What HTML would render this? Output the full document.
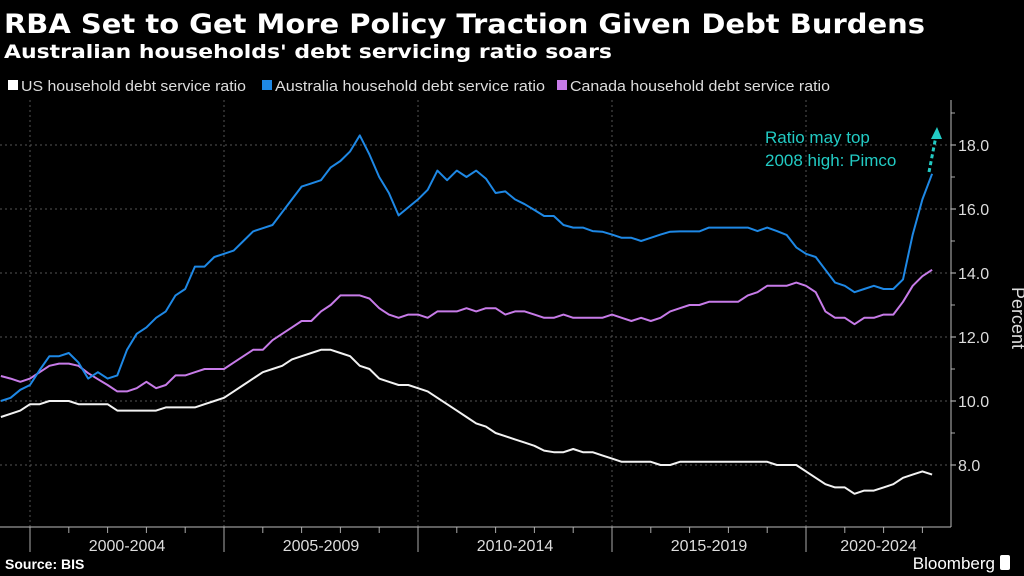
<!DOCTYPE html>
<html><head><meta charset="utf-8"><style>
html,body{margin:0;padding:0;background:#000;width:1024px;height:576px;overflow:hidden}
svg{display:block;font-family:"Liberation Sans",sans-serif}
</style></head><body>
<svg id="chart" width="1024" height="576" viewBox="0 0 1024 576">
<text x="4" y="33" fill="#fff" font-size="27" font-weight="bold" font-family="'DejaVu Sans', sans-serif" textLength="921" lengthAdjust="spacingAndGlyphs">RBA Set to Get More Policy Traction Given Debt Burdens</text>
<text x="4" y="58" fill="#fff" font-size="19" font-weight="bold" font-family="'DejaVu Sans', sans-serif" textLength="608" lengthAdjust="spacingAndGlyphs">Australian households' debt servicing ratio soars</text>
<g font-size="15" fill="#ddd">
<g><rect x="8" y="80" width="10" height="10" fill="#fff"/><text x="21" y="91" textLength="225" lengthAdjust="spacingAndGlyphs">US household debt service ratio</text></g>
<g><rect x="262" y="80" width="10" height="10" fill="#1e88e5"/><text x="275" y="91" textLength="270" lengthAdjust="spacingAndGlyphs">Australia household debt service ratio</text></g>
<g><rect x="557" y="80" width="10" height="10" fill="#c77be8"/><text x="570" y="91" textLength="260" lengthAdjust="spacingAndGlyphs">Canada household debt service ratio</text></g>
</g>
<g id="grid"></g>
<g id="axes"></g>
<g id="series"></g>
<g>
<text x="765" y="143" fill="#22cbc4" font-size="17">Ratio may top</text>
<text x="765" y="166" fill="#22cbc4" font-size="17">2008 high: Pimco</text>
<line x1="929" y1="172" x2="936" y2="136" stroke="#22cbc4" stroke-width="3" stroke-dasharray="4,3"/>
<polygon points="937,127 931,139 942,139" fill="#22cbc4"/>
</g>
<text x="1012" y="318" fill="#ddd" font-size="18" text-anchor="middle" transform="rotate(90 1012 318)">Percent</text>
<text x="5" y="569" fill="#fff" font-size="14" font-weight="bold">Source: BIS</text>
<text x="995" y="569" fill="#fff" font-size="17" text-anchor="end">Bloomberg</text>
<rect x="1000" y="555" width="10" height="15" rx="2" fill="#fff"/>
</svg>
<script>
const yTicks=[8,10,12,14,16,18];
const yTickLabels=["8.0","10.0","12.0","14.0","16.0","18.0"];
const periodLabels=["2000-2004","2005-2009","2010-2014","2015-2019","2020-2024"];
const periodStarts=[2000,2005,2010,2015,2020];
const startYear=1999.25;
const usValues=[9.5,9.6,9.7,9.9,9.9,10.0,10.0,10.0,9.9,9.9,9.9,9.9,9.7,9.7,9.7,9.7,9.7,9.8,9.8,9.8,9.8,9.9,10.0,10.1,10.3,10.5,10.7,10.9,11.0,11.1,11.3,11.4,11.5,11.6,11.6,11.5,11.4,11.1,11.0,10.7,10.6,10.5,10.5,10.4,10.3,10.1,9.9,9.7,9.5,9.3,9.2,9.0,8.9,8.8,
8.7,8.6,8.45,8.4,8.4,8.5,8.4,8.4,8.3,8.2,8.1,8.1,8.1,8.1,8.0,8.0,8.1,8.1,8.1,8.1,8.1,8.1,8.1,8.1,8.1,
8.1,8.0,8.0,8.0,7.8,7.6,7.4,7.3,7.3,7.1,7.2,7.2,7.3,7.4,7.6,7.7,7.8,7.7];
const auValues=[10.0,10.1,10.35,10.5,10.97,11.4,11.4,11.5,11.2,10.7,10.9,10.7,10.8,11.6,12.1,12.3,12.6,12.8,13.3,13.5,14.2,14.2,14.5,14.6,14.7,15.0,15.3,15.4,15.5,15.9,16.3,16.7,16.8,16.9,17.3,17.5,17.8,18.3,17.7,17.0,16.5,15.8,16.05,16.3,16.6,17.2,16.9,17.2,17.0,17.2,16.95,16.5,16.55,16.3,
16.15,15.97,15.78,15.78,15.5,15.42,15.42,15.31,15.29,15.2,15.1,15.1,15.0,15.1,15.2,15.29,15.3,15.3,15.3,15.42,15.42,15.42,15.42,15.42,15.31,15.42,15.31,15.19,14.8,14.6,14.5,14.1,13.7,13.6,13.4,13.5,13.6,13.5,13.5,13.8,15.2,16.3,17.1];
const caValues=[10.78,10.7,10.6,10.7,10.9,11.1,11.17,11.17,11.1,10.87,10.68,10.5,10.3,10.3,10.4,10.6,10.4,10.5,10.8,10.8,10.9,11.0,11.0,11.0,11.2,11.4,11.6,11.6,11.9,12.1,12.3,12.5,12.5,12.8,13.0,13.3,13.3,13.3,13.2,12.9,12.7,12.6,12.7,12.7,12.6,12.8,12.8,12.8,12.9,12.8,12.9,12.9,12.7,12.8,
12.8,12.7,12.6,12.6,12.7,12.6,12.6,12.6,12.6,12.7,12.6,12.5,12.6,12.5,12.6,12.8,12.9,13.0,13.0,13.1,13.1,13.1,13.1,13.3,13.4,13.6,13.6,13.6,13.7,13.6,13.4,12.8,12.6,12.6,12.4,12.6,12.6,12.7,12.7,13.1,13.6,13.9,14.1];
const NS="http://www.w3.org/2000/svg";
const AX=951, AXB=527, TOP=100;
function xOfYear(yr){return 30+(yr-2000)*38.8;}
function xOfIndex(i){return xOfYear(startYear+i*0.25);}
function yOf(v){return 145+(18-v)*32;}
function mk(tag,attrs,parent){const e=document.createElementNS(NS,tag);for(const k in attrs)e.setAttribute(k,attrs[k]);parent.appendChild(e);return e;}
const grid=document.getElementById('grid'),axes=document.getElementById('axes'),series=document.getElementById('series');
yTicks.forEach((v,i)=>{
  const l=mk('line',{x1:0,x2:AX,y1:yOf(v),y2:yOf(v),stroke:'#555','stroke-width':1,'stroke-dasharray':'2,3'},grid);
  
  
  const t=mk('line',{x1:AX,x2:AX+5,y1:yOf(v),y2:yOf(v),stroke:'#ccc'},axes);
  
  
  const tx=mk('text',{x:AX+7,y:yOf(v)+6,fill:'#ddd','font-size':16},axes);
  tx.textContent=yTickLabels[i];
  
  
  const m=mk('line',{x1:AX,x2:AX+4,y1:yOf(v+1),y2:yOf(v+1),stroke:'#aaa'},axes);
  
  
});
periodStarts.forEach((yr,i)=>{
  const x=xOfYear(yr);
  const g=mk('line',{x1:x,x2:x,y1:TOP,y2:AXB,stroke:'#555','stroke-dasharray':'2,3'},grid);
  
  
  const t=mk('line',{x1:x,x2:x,y1:AXB,y2:552,stroke:'#aaa'},axes);
  
  
  const end=Math.min(xOfYear(yr+5),AX);
  const tx=mk('text',{x:(x+end)/2,y:551,fill:'#ddd','font-size':16,'text-anchor':'middle'},axes);
  tx.textContent=periodLabels[i];
  
  
  for(let k=1;k<5;k++){const mx=xOfYear(yr+k);if(mx<AX){const m=mk('line',{x1:mx,x2:mx,y1:AXB,y2:AXB+6,stroke:'#aaa'},axes);
  
  }}
});
const xa=mk('line',{x1:0,x2:AX,y1:AXB,y2:AXB,stroke:'#bbb'},axes);


const ya=mk('line',{x1:AX,x2:AX,y1:TOP,y2:AXB,stroke:'#bbb'},axes);


function drawLine(vals,color,name){
  const pts=vals.map((v,i)=>xOfIndex(i).toFixed(1)+','+yOf(v).toFixed(1)).join(' ');
  const p=mk('polyline',{points:pts,fill:'none',stroke:color,'stroke-width':2,'stroke-linejoin':'round'},series);
  
  
}
drawLine(usValues,'#f2f2f2','us-series-line');
drawLine(caValues,'#c77be8','canada-series-line');
drawLine(auValues,'#1e88e5','australia-series-line');
</script>
</body></html>
